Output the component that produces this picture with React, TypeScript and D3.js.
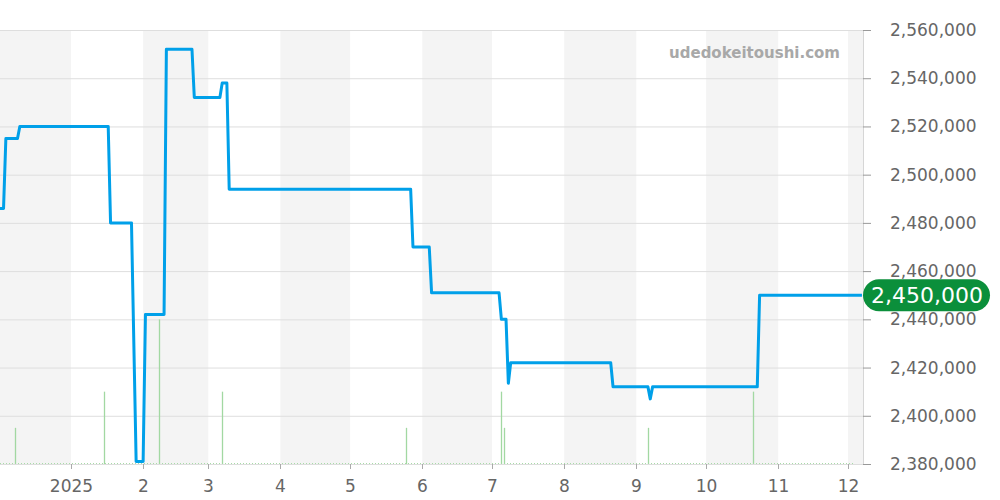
import * as d3 from 'd3';
import React, { useEffect, useRef } from 'react';

// price line (change points, connected linearly)
const priceDates = [
  '2024-12-01', '2024-12-03', '2024-12-04', '2024-12-09', '2024-12-10',
  '2025-01-17', '2025-01-18', '2025-01-27', '2025-01-29', '2025-02-01',
  '2025-02-02', '2025-02-10', '2025-02-11', '2025-02-22', '2025-02-23',
  '2025-03-06', '2025-03-07', '2025-03-09', '2025-03-10', '2025-05-27',
  '2025-05-28', '2025-06-04', '2025-06-05', '2025-07-04', '2025-07-05',
  '2025-07-07', '2025-07-08', '2025-07-09', '2025-08-21', '2025-08-22',
  '2025-09-06', '2025-09-07', '2025-09-08', '2025-10-23', '2025-10-24',
  '2025-12-07',
];
const priceValues = [
  2486000, 2486000, 2515000, 2515000, 2520000,
  2520000, 2480000, 2480000, 2381000, 2381000,
  2442000, 2442000, 2552000, 2552000, 2532000,
  2532000, 2538000, 2538000, 2494000, 2494000,
  2470000, 2470000, 2451000, 2451000, 2440000,
  2440000, 2413500, 2422000, 2422000, 2412000,
  2412000, 2407000, 2412000, 2412000, 2450000,
  2450000,
];

// listing counts (green bars)
const volumeDates = [
  '2024-12-08', '2025-01-15', '2025-02-08', '2025-03-07', '2025-05-25',
  '2025-07-05', '2025-07-06', '2025-09-06', '2025-10-21',
];
const volumeValues = [1, 2, 4, 2, 1, 2, 1, 1, 2];

const yTicks = [2380000, 2400000, 2420000, 2440000, 2460000, 2480000, 2500000, 2520000, 2540000, 2560000];
const monthTicks = ['2025-01-01', '2025-02-01', '2025-03-01', '2025-04-01', '2025-05-01', '2025-06-01',
  '2025-07-01', '2025-08-01', '2025-09-01', '2025-10-01', '2025-11-01', '2025-12-01'];
const monthLabels = ['2025', '2', '3', '4', '5', '6', '7', '8', '9', '10', '11', '12'];
const shadedMonths = ['2024-12-01', '2025-02-01', '2025-04-01', '2025-06-01', '2025-08-01', '2025-10-01', '2025-12-01'];
const lastPrice = 2450000;
const watermark = 'udedokeitoushi.com';

const parse = d3.timeParse('%Y-%m-%d');

export default function App() {
  const ref = useRef(null);

  useEffect(() => {
    const width = 1000;
    const height = 500;
    const plotLeft = 0;
    const plotRight = 863;
    const top = 30;
    const bottom = 464;
    const font = '"DejaVu Sans", sans-serif';

    const svg = d3.select(ref.current);
    svg.selectAll('*').remove();
    svg.attr('width', width).attr('height', height);

    const x = d3.scaleTime()
      .domain([parse('2025-01-01'), parse('2025-12-01')])
      .range([71, 848]);
    const y = d3.scaleLinear().domain([2380000, 2560000]).range([bottom, top]);
    const yVol = d3.scaleLinear().domain([0, 12]).range([bottom, top]);

    svg.append('clipPath').attr('id', 'plot-clip')
      .append('rect')
      .attr('x', plotLeft).attr('y', 0)
      .attr('width', plotRight - plotLeft).attr('height', bottom + 1);

    const plot = svg.append('g').attr('clip-path', 'url(#plot-clip)');

    // month bands
    shadedMonths.forEach((m) => {
      const start = parse(m);
      const end = d3.timeMonth.offset(start, 1);
      plot.append('rect')
        .attr('x', x(start))
        .attr('y', top)
        .attr('width', x(end) - x(start))
        .attr('height', bottom - top)
        .attr('fill', '#f4f4f4');
    });

    // grid
    yTicks.forEach((t) => {
      plot.append('line')
        .attr('x1', plotLeft).attr('x2', plotRight)
        .attr('y1', y(t) + 0.5).attr('y2', y(t) + 0.5)
        .attr('stroke', '#dedede');
    });

    // watermark
    svg.append('text')
      .attr('x', 840).attr('y', 58)
      .attr('text-anchor', 'end')
      .attr('font-family', font)
      .attr('font-weight', 'bold')
      .attr('font-size', 15)
      .attr('fill', '#a8a8a8')
      .text(watermark);

    // dotted baseline of the count series
    plot.append('line')
      .attr('x1', plotLeft).attr('x2', x(parse('2025-12-04')))
      .attr('y1', bottom - 0.5).attr('y2', bottom - 0.5)
      .attr('stroke', '#a8dca8')
      .attr('stroke-dasharray', '1,2');

    volumeDates.forEach((d, i) => {
      const xv = Math.round(x(parse(d))) + 0.5;
      plot.append('line')
        .attr('x1', xv).attr('x2', xv)
        .attr('y1', yVol(0)).attr('y2', yVol(volumeValues[i]))
        .attr('stroke', '#a2d8a2')
        .attr('stroke-width', 1.3);
    });

    // price line
    const pts = priceDates.map((d, i) => [parse(d), priceValues[i]]);
    const line = d3.line()
      .x((p) => x(p[0]))
      .y((p) => y(p[1]));
    plot.append('path')
      .datum(pts)
      .attr('d', line)
      .attr('fill', 'none')
      .attr('stroke', '#00a0e9')
      .attr('stroke-width', 3)
      .attr('stroke-linejoin', 'round');

    // right axis
    svg.append('line')
      .attr('x1', plotRight + 0.5).attr('x2', plotRight + 0.5)
      .attr('y1', top).attr('y2', bottom)
      .attr('stroke', '#d6d6d6');
    yTicks.forEach((t) => {
      svg.append('line')
        .attr('x1', plotRight).attr('x2', plotRight + 8)
        .attr('y1', y(t) + 0.5).attr('y2', y(t) + 0.5)
        .attr('stroke', '#999');
      svg.append('text')
        .attr('x', 890).attr('y', y(t))
        .attr('dy', '0.35em')
        .attr('font-family', font)
        .attr('font-size', 17)
        .attr('fill', '#666')
        .text(d3.format(',')(t));
    });

    // bottom axis
    monthTicks.forEach((m, i) => {
      const xv = Math.round(x(parse(m))) + 0.5;
      svg.append('line')
        .attr('x1', xv).attr('x2', xv)
        .attr('y1', bottom).attr('y2', bottom + 5)
        .attr('stroke', '#aaa');
      svg.append('text')
        .attr('x', xv).attr('y', 492)
        .attr('text-anchor', 'middle')
        .attr('font-family', font)
        .attr('font-size', 17)
        .attr('fill', '#666')
        .text(monthLabels[i]);
    });

    // last price badge
    const by = y(lastPrice);
    svg.append('rect')
      .attr('x', 863).attr('y', by - 16)
      .attr('width', 127).attr('height', 32)
      .attr('rx', 16)
      .attr('fill', '#0b8f3b');
    svg.append('text')
      .attr('x', 927).attr('y', by)
      .attr('dy', '0.36em')
      .attr('text-anchor', 'middle')
      .attr('font-family', font)
      .attr('font-size', 22)
      .attr('fill', '#fff')
      .text(d3.format(',')(lastPrice));
  }, []);

  return <svg ref={ref} style={{ position: 'absolute', left: 0, top: 0 }}></svg>;
}
